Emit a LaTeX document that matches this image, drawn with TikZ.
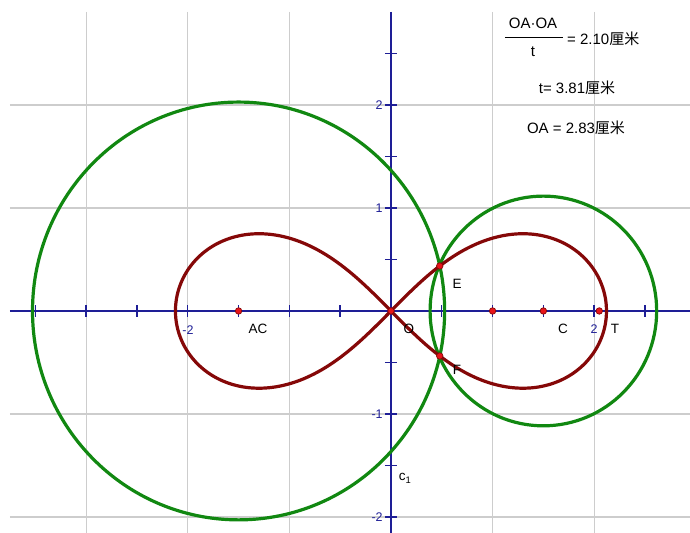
\documentclass[tikz,border=0pt]{standalone}
\usepackage{fontspec}
\setmainfont{Liberation Sans}
\newfontfamily\cjk{Noto Sans CJK SC}
\usetikzlibrary{calc}
\definecolor{axisblue}{HTML}{1E1E96}
\definecolor{gridgray}{HTML}{CDCDCD}
\definecolor{curvered}{HTML}{850808}
\definecolor{circlegreen}{HTML}{118811}
\definecolor{dotred}{HTML}{E8141A}

\begin{document}
\begin{tikzpicture}[
    x=101.6pt, y=103pt,
    font=\fontsize{13}{13}\selectfont,
    % ── shared styles ──
    grid line/.style={draw=gridgray, line width=1.1pt},
    axis line/.style={draw=axisblue, line width=1.4pt},
    tick mark/.style={draw=axisblue, line width=1.4pt},
    tick label/.style={font=\fontsize{12.5}{12.5}\selectfont, text=axisblue, inner sep=1pt},
    circle curve/.style={draw=circlegreen, line width=3.2pt},
    loop curve/.style={draw=curvered, line width=3.2pt},
    point dot/.style={circle, fill=dotred, draw=curvered, line width=0.7pt,
        inner sep=0pt, minimum size=6.5pt},
    point label/.style={font=\fontsize{13.5}{13.5}\selectfont, inner sep=1pt},
    measure/.style={font=\fontsize{15}{15}\selectfont, inner sep=1pt},
]

% ══════════════════════════════════════════════════════════════════════
%  DIMENSIONS
% ══════════════════════════════════════════════════════════════════════
\def\boxL{-3.848} \def\boxR{2.943} \def\boxB{-2.155} \def\boxT{3.019}
\def\gridL{-3.75} \def\gridT{2.903}
\def\rBig{2.028}  \def\rSmall{1.115}   % circle radii round A and C
\def\focus{2.1213}                     % a*sqrt(2), a = 1.5

\useasboundingbox (\boxL,\boxB) rectangle (\boxR,\boxT);

% ══════════════════════════════════════════════════════════════════════
%  GRID + AXES
% ══════════════════════════════════════════════════════════════════════
\foreach \gx in {-3,-2,-1,1,2}
  \draw[grid line] (\gx,\gridT) -- (\gx,\boxB);
\foreach \gy in {-2,-1,1,2}
  \draw[grid line] (\gridL,\gy) -- (\boxR,\gy);

\draw[axis line] (\gridL,0) -- (\boxR,0);
\draw[axis line] (0,\gridT) -- (0,\boxB);

\foreach \t in {-3.5,-3,...,2.5}
  \draw[tick mark] (\t,0) ++(0,-6pt) -- ++(0,12pt);
\foreach \t in {-2,-1.5,...,2.5}
  \draw[tick mark] (0,\t) ++(-6pt,0) -- ++(12pt,0);

\node[tick label] (xm2) at (-1.998,-0.184) {-2};
\node[tick label] (xp2) at (1.998,-0.175) {2};
\node[tick label, anchor=east] (yp2) at (-0.07,2) {2};
\node[tick label, anchor=east] (yp1) at (-0.07,1) {1};
\node[tick label, anchor=east] (ym1) at (-0.07,-1) {-1};
\node[tick label, anchor=east] (ym2) at (-0.07,-2) {-2};

% ══════════════════════════════════════════════════════════════════════
%  POINTS
% ══════════════════════════════════════════════════════════════════════
\coordinate (A) at (-1.5,0);
\coordinate (O) at (0,0);
\coordinate (U) at (1,0);
\coordinate (C) at (1.5,0);
\coordinate (T) at (2.05,0);
\coordinate (E) at (0.48,0.437);
\coordinate (F) at (0.48,-0.437);

% ══════════════════════════════════════════════════════════════════════
%  CIRCLES + LEMNISCATE
% ══════════════════════════════════════════════════════════════════════
\draw[circle curve] (A) circle[radius=\rBig];
\draw[circle curve] (C) circle[radius=\rSmall];

\draw[loop curve] plot[domain=0:360, samples=241, smooth, variable=\s]
    ({\focus*cos(\s)/(1+sin(\s)^2)}, {\focus*sin(\s)*cos(\s)/(1+sin(\s)^2)}) -- cycle;

\foreach \p in {A,O,U,C,T,E,F}
  \node[point dot] at (\p) {};

% ══════════════════════════════════════════════════════════════════════
%  LABELS
% ══════════════════════════════════════════════════════════════════════
\node[point label] (labAC) at (-1.309,-0.175) {AC};
\node[point label] (labO)  at (0.177,-0.175) {O};
\node[point label] (labE)  at (0.650,0.262) {E};
\node[point label] (labF)  at (0.650,-0.573) {F};
\node[point label] (labC)  at (1.693,-0.175) {C};
\node[point label] (labT)  at (2.205,-0.175) {T};
\node[point label] (labc1) at (0.14,-1.625) {c\textsubscript{1}};

% ══════════════════════════════════════════════════════════════════════
%  MEASUREMENTS
% ══════════════════════════════════════════════════════════════════════
\node[measure] (num) at (1.398,2.796) {OA·OA};
\node[measure] (den) at (1.398,2.515) {t};
\draw[line width=0.9pt] (1.122,2.660) -- (1.693,2.660);
\node[measure, anchor=west] (ratio) at (1.722,2.641) {= 2.10{\cjk 厘米}};
\node[measure] (tval)  at (1.831,2.165) {t= 3.81{\cjk 厘米}};
\node[measure] (oaval) at (1.821,1.777) {OA = 2.83{\cjk 厘米}};

\end{tikzpicture}
\end{document}
